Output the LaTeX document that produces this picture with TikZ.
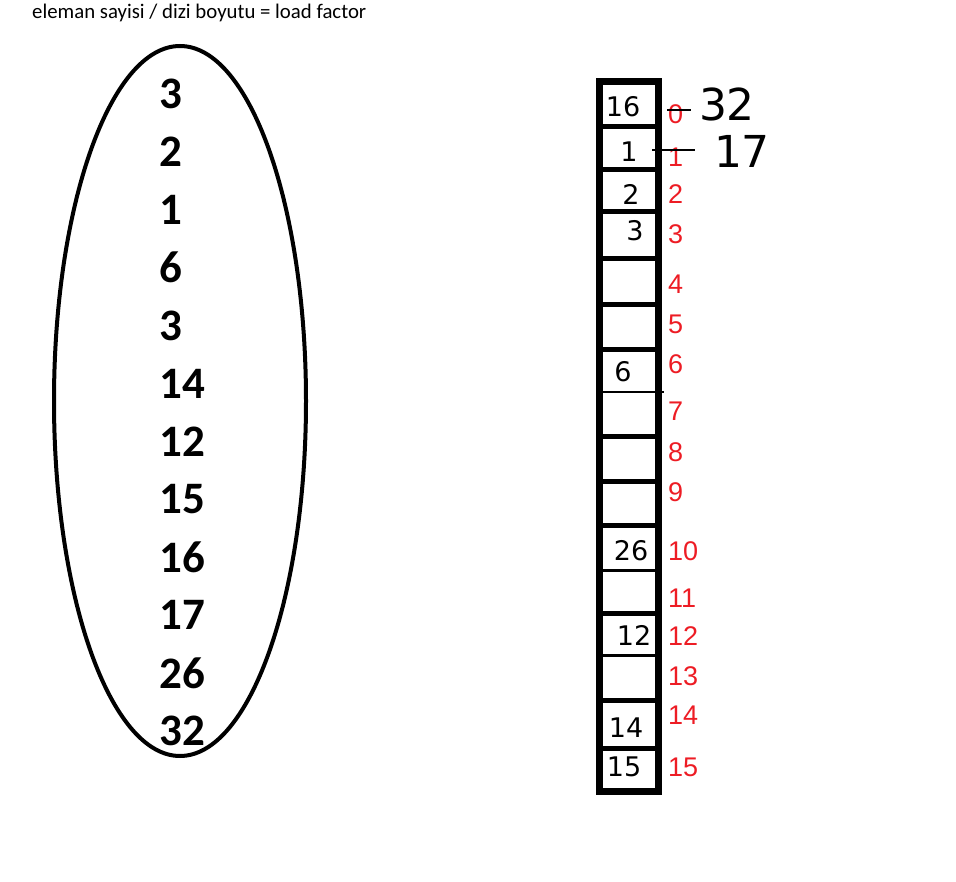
\documentclass[tikz,border=0pt]{standalone}
\usepackage{fontspec}
\setmainfont{Carlito}
\newfontfamily\idxfont{Liberation Sans}
\newfontfamily\handfont{DejaVu Sans}
\definecolor{paintred}{RGB}{237,28,36}
\tikzset{
  bignum/.style={anchor=west,inner sep=0pt,font=\fontsize{45}{45}\selectfont\bfseries},
  idx/.style={anchor=west,inner sep=0pt,text=paintred,font=\idxfont\fontsize{27}{27}\selectfont},
  hand/.style={inner sep=0pt,font=\handfont\fontsize{27}{27}\selectfont\mdseries},
  handbig/.style={inner sep=0pt,font=\handfont\fontsize{44}{44}\selectfont},
  divider/.style={line width=5pt},
}
\begin{document}
\begin{tikzpicture}[x=1pt,y=-1pt]
\useasboundingbox (0,0) rectangle (956,882);
\node[anchor=west,inner sep=0pt,font=\fontsize{20.8}{22}\selectfont] (title) at (32,13) {eleman sayisi / dizi boyutu = load factor};
% ellipse with numbers
\draw[line width=4pt] (180,401) ellipse [x radius=126, y radius=355];
\foreach \v [count=\i from 0] in {3,2,1,6,3,14,12,15,16,17,26,32}{
  \node[bignum] (n\i) at (159,{94+57.9*\i}) {\v};
}
% array
\draw[line width=7pt] (599.5,82) rectangle (658.5,791);
\foreach \yy in {127,170,212,259,305,350,437,481,525,613,700,748}{
  \draw[divider] (599.5,\yy) -- (658.5,\yy);
}
\draw[line width=2pt] (599.5,392) -- (664,392);
\draw[line width=3pt] (599.5,570) -- (658.5,570);
\draw[line width=3pt] (599.5,655) -- (658.5,655);
% red indices
\foreach \v/\yy in {0/114,1/157,2/194,3/234,4/284,5/324,6/364,7/411,8/452,9/492,10/551,11/598,12/636,13/676,14/715,15/767}{
  \node[idx] (i\v) at (668,\yy) {\v};
}
% handwritten contents
\node[hand] (c0) at (623,107) {16};
\node[hand] (c1) at (629,152) {1};
\node[hand] (c2) at (631,194) {2};
\node[hand] (c3) at (635,231) {3};
\node[hand] (c6) at (623,372) {6};
\node[hand] (c10) at (631,551) {26};
\node[hand] (c12) at (634,635) {12};
\node[hand] (c14) at (626,728) {14};
\node[hand] (c15) at (624,767) {15};
% outside values
\node[handbig] (o32) at (727,104) {32};
\node[handbig] (o17) at (742,151) {17};
\draw[line width=2.5pt] (667,110) -- (691,110);
\draw[line width=2.5pt] (652,150) -- (695,150);
\end{tikzpicture}
\end{document}
